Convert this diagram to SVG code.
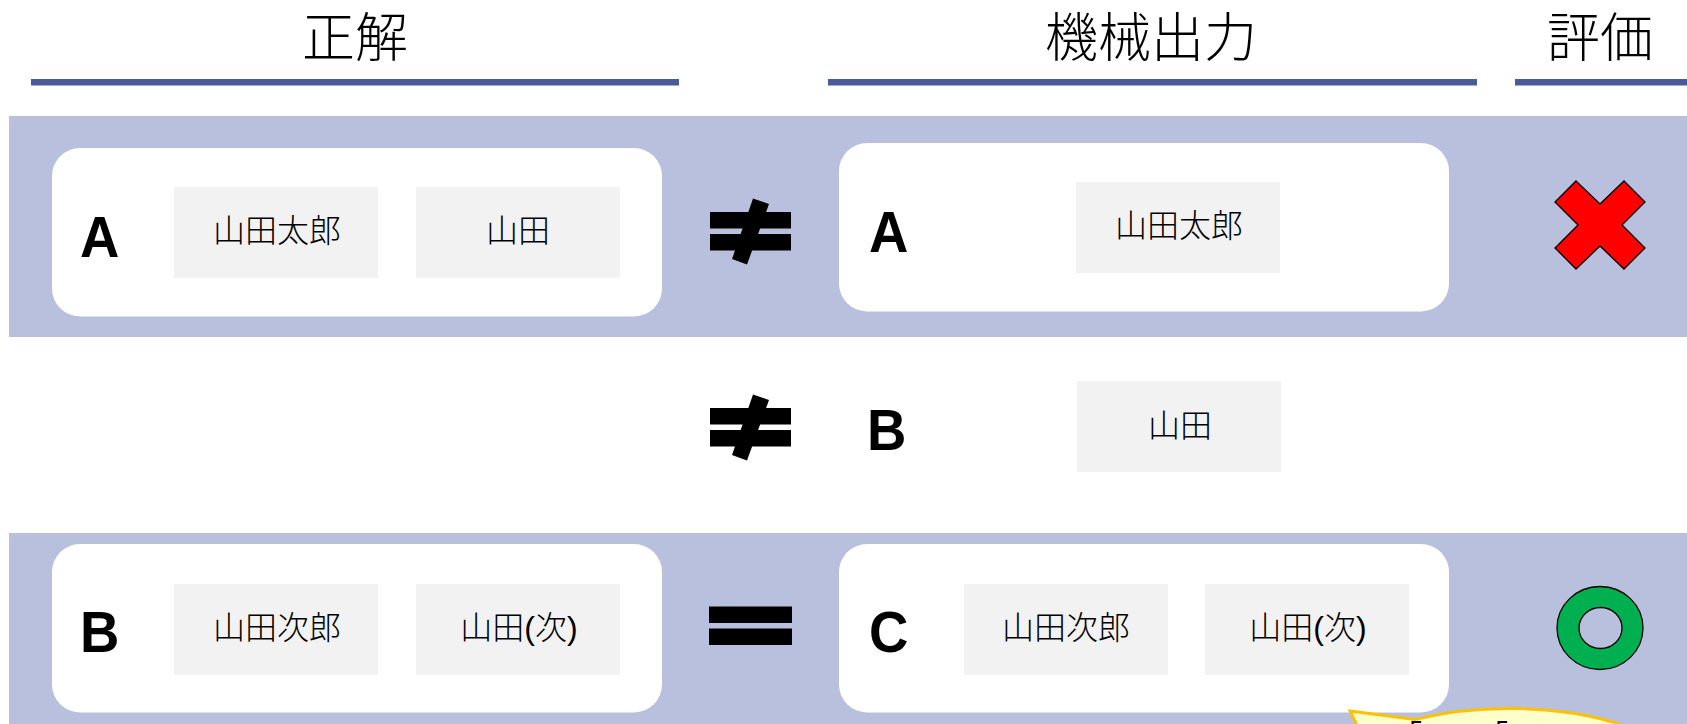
<svg xmlns="http://www.w3.org/2000/svg" width="1687" height="724" viewBox="0 0 1687 724">
<style>
text{font-family:"Liberation Sans","Noto Sans CJK JP",sans-serif;fill:#000}
.h{font-size:53px;text-anchor:middle;font-weight:300}
.l{font-size:58px;font-weight:bold}
.t{font-size:32px;text-anchor:middle;font-weight:300}
.c{font-size:30px}
.band{fill:#b8c0de}
.rule{fill:#4a5b97}
.card{fill:#fff}
.box{fill:#f2f2f2}
</style>
<rect width="1687" height="724" fill="#fff"/>
<g id="headers">
<text class="h" x="355" y="57">正解</text><rect class="rule" x="31" y="79" width="648" height="6.500"/>
<text class="h" x="1151" y="57">機械出力</text><rect class="rule" x="828" y="79" width="649" height="6.500"/>
<text class="h" x="1600" y="57">評価</text><rect class="rule" x="1515" y="79" width="172" height="6.500"/>
</g>
<rect class="band" x="9" y="116" width="1678" height="221"/>
<rect class="band" x="9" y="533" width="1678" height="191"/>
<g id="gold-a"><rect class="card" x="52" y="148" width="610" height="168.500" rx="28"/>
<text class="l" transform="translate(80 257) scale(.94 1)">A</text>
<rect class="box" x="174" y="187" width="204" height="91"/><text class="t" x="277" y="242">山田太郎</text>
<rect class="box" x="416" y="187" width="204" height="91"/><text class="t" x="518" y="242">山田</text></g>
<g id="out-a"><rect class="card" x="839" y="143" width="610" height="168.500" rx="28"/>
<text class="l" transform="translate(869 252) scale(.94 1)">A</text>
<rect class="box" x="1076" y="182" width="204" height="91"/><text class="t" x="1179" y="237">山田太郎</text></g>
<g id="out-b"><text class="l" transform="translate(867 450) scale(.94 1)">B</text>
<rect class="box" x="1077" y="381" width="204" height="91"/><text class="t" x="1180" y="437">山田</text></g>
<g id="gold-b"><rect class="card" x="52" y="544" width="610" height="168.500" rx="28"/>
<text class="l" transform="translate(80 652) scale(.94 1)">B</text>
<rect class="box" x="174" y="584" width="204" height="91"/><text class="t" x="277" y="639">山田次郎</text>
<rect class="box" x="416" y="584" width="204" height="91"/><text class="t" x="519" y="639">山田(次)</text></g>
<g id="out-c"><rect class="card" x="839" y="544" width="610" height="168.500" rx="28"/>
<text class="l" transform="translate(869 652) scale(.94 1)">C</text>
<rect class="box" x="964" y="584" width="204" height="91"/><text class="t" x="1066" y="639">山田次郎</text>
<rect class="box" x="1205" y="584" width="204" height="91"/><text class="t" x="1308" y="639">山田(次)</text></g>
<g id="neq-1"><rect x="710" y="212" width="81" height="16.500"/><rect x="710" y="234" width="81" height="16.500"/><polygon points="753,198.500 769,204 747,264.500 732,259"/></g>
<g id="neq-2"><rect x="710" y="408" width="81" height="16.500"/><rect x="710" y="430" width="81" height="16.500"/><polygon points="753,394.500 769,400 747,460.500 732,455"/></g>
<g id="eq"><rect x="709" y="606.500" width="83" height="16.500"/><rect x="709" y="628.500" width="83" height="16.500"/></g>
<g id="cross"><polygon fill="#f00" stroke="#000" stroke-width="1.300" points="1576,181 1600,204 1624,181 1645,202 1622,225 1645,248 1624,269 1600,246 1576,269 1555,248 1578,225 1555,202"/></g>
<g id="circle"><path fill="#00b050" fill-rule="evenodd" stroke="#000" stroke-width="1.300" d="M1557,628a43,41.500 0 1 0 86,0a43,41.500 0 1 0 -86,0zM1579,628a21.500,20.500 0 1 1 43,0a21.500,20.500 0 1 1 -43,0z"/></g>
<g id="callout"><path d="M1350,711 L1415,719.500 C1480,703 1565,705 1625,726 L1625,735 L1362,735 Z" fill="#ffffcc" stroke="#ffc000" stroke-width="2.800"/>
<text class="c" x="1392" y="746">「</text><text class="c" x="1478" y="746">「</text></g>
</svg>
